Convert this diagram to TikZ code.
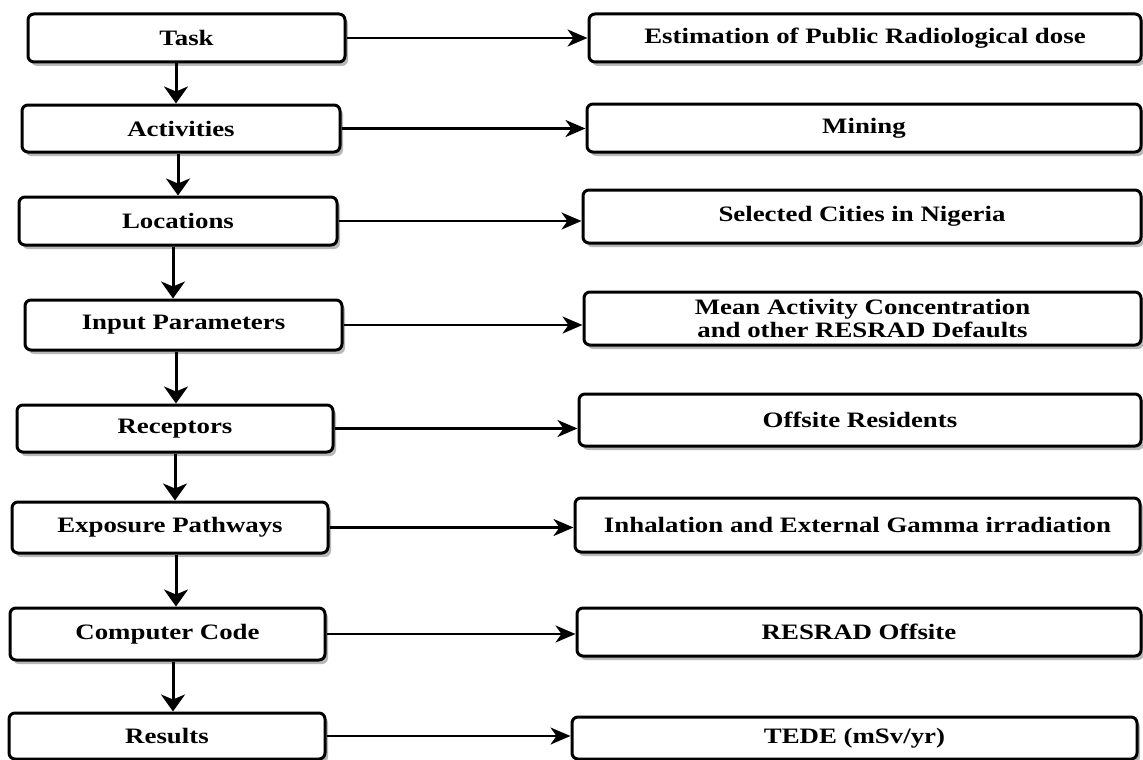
\documentclass[tikz,border=0pt]{standalone}
\usepackage{fontspec}
\setmainfont{Liberation Serif}[FakeStretch=1.22]
\usetikzlibrary{arrows.meta,shadows}
\tikzset{
  box/.style={draw=black, line width=3pt, rounded corners=6pt, fill=white,
    inner sep=0pt, align=center,
    font=\fontsize{22}{23}\selectfont\bfseries,
    drop shadow={shadow xshift=3pt, shadow yshift=-4pt, fill=black!28, opacity=1}},
  vline/.style={line width=3pt, -{Stealth[length=17pt,width=24pt,inset=5pt]}},
  hline/.style={line width=2.6pt, -{Stealth[length=20pt,width=17pt,inset=6pt]}}
}
\begin{document}
\begin{tikzpicture}[x=1pt,y=-1pt]
\useasboundingbox (0,0) rectangle (1143,760);
% left column
\node[box, minimum width=317pt, minimum height=48pt] (task) at (186.5,38) {Task};
\node[box, minimum width=318pt, minimum height=47pt] (act) at (181,128.5) {Activities};
\node[box, minimum width=318pt, minimum height=48pt] (loc) at (178,221) {Locations};
\node[box, minimum width=317pt, minimum height=50pt] (inp) at (183.5,325) {Input Parameters};
\node[box, minimum width=316pt, minimum height=47pt] (rec) at (175,428.5) {Receptors};
\node[box, minimum width=316pt, minimum height=51pt] (exp) at (170,527.5) {Exposure Pathways};
\node[box, minimum width=315pt, minimum height=52pt] (comp) at (167.5,634) {Computer Code};
\node[box, minimum width=316pt, minimum height=46pt] (res) at (167,736) {Results};
% right column
\node[box, minimum width=552pt, minimum height=48pt] (r1) at (865,38) {Estimation of Public Radiological dose};
\node[box, minimum width=554pt, minimum height=48pt] (r2) at (864,128) {Mining};
\node[box, minimum width=558pt, minimum height=53pt] (r3) at (862,216.5) {Selected Cities in Nigeria};
\node[box, minimum width=557pt, minimum height=53pt] (r4) at (862.5,318.5) {Mean Activity Concentration\\and other RESRAD Defaults};
\node[box, minimum width=562pt, minimum height=52pt] (r5) at (860,420) {Offsite Residents};
\node[box, minimum width=565pt, minimum height=54pt] (r6) at (857.5,525) {Inhalation and External Gamma irradiation};
\node[box, minimum width=564pt, minimum height=48pt] (r7) at (859,632) {RESRAD Offsite};
\node[box, minimum width=565pt, minimum height=42pt] (r8) at (854.5,738) {TEDE (mSv/yr)};
% vertical connectors
\draw[vline] (task.south -| 176,0) -- (act.north -| 176,0);
\draw[vline] (act.south -| 178,0) -- (loc.north -| 178,0);
\draw[vline] (loc.south -| 173,0) -- (inp.north -| 173,0);
\draw[vline] (inp.south -| 176,0) -- (rec.north -| 176,0);
\draw[vline] (rec.south -| 175,0) -- (exp.north -| 175,0);
\draw[vline] (exp.south -| 176,0) -- (comp.north -| 176,0);
\draw[vline] (comp.south -| 173,0) -- (res.north -| 173,0);
% horizontal connectors
\draw[hline] (task.east) -- (task.east -| r1.west);
\draw[hline] (act.east) -- (act.east -| r2.west);
\draw[hline] (loc.east) -- (loc.east -| r3.west);
\draw[hline] (inp.east) -- (inp.east -| r4.west);
\draw[hline] (rec.east) -- (rec.east -| r5.west);
\draw[hline] (exp.east) -- (exp.east -| r6.west);
\draw[hline] (comp.east) -- (comp.east -| r7.west);
\draw[hline] (res.east) -- (res.east -| r8.west);
\end{tikzpicture}
\end{document}
